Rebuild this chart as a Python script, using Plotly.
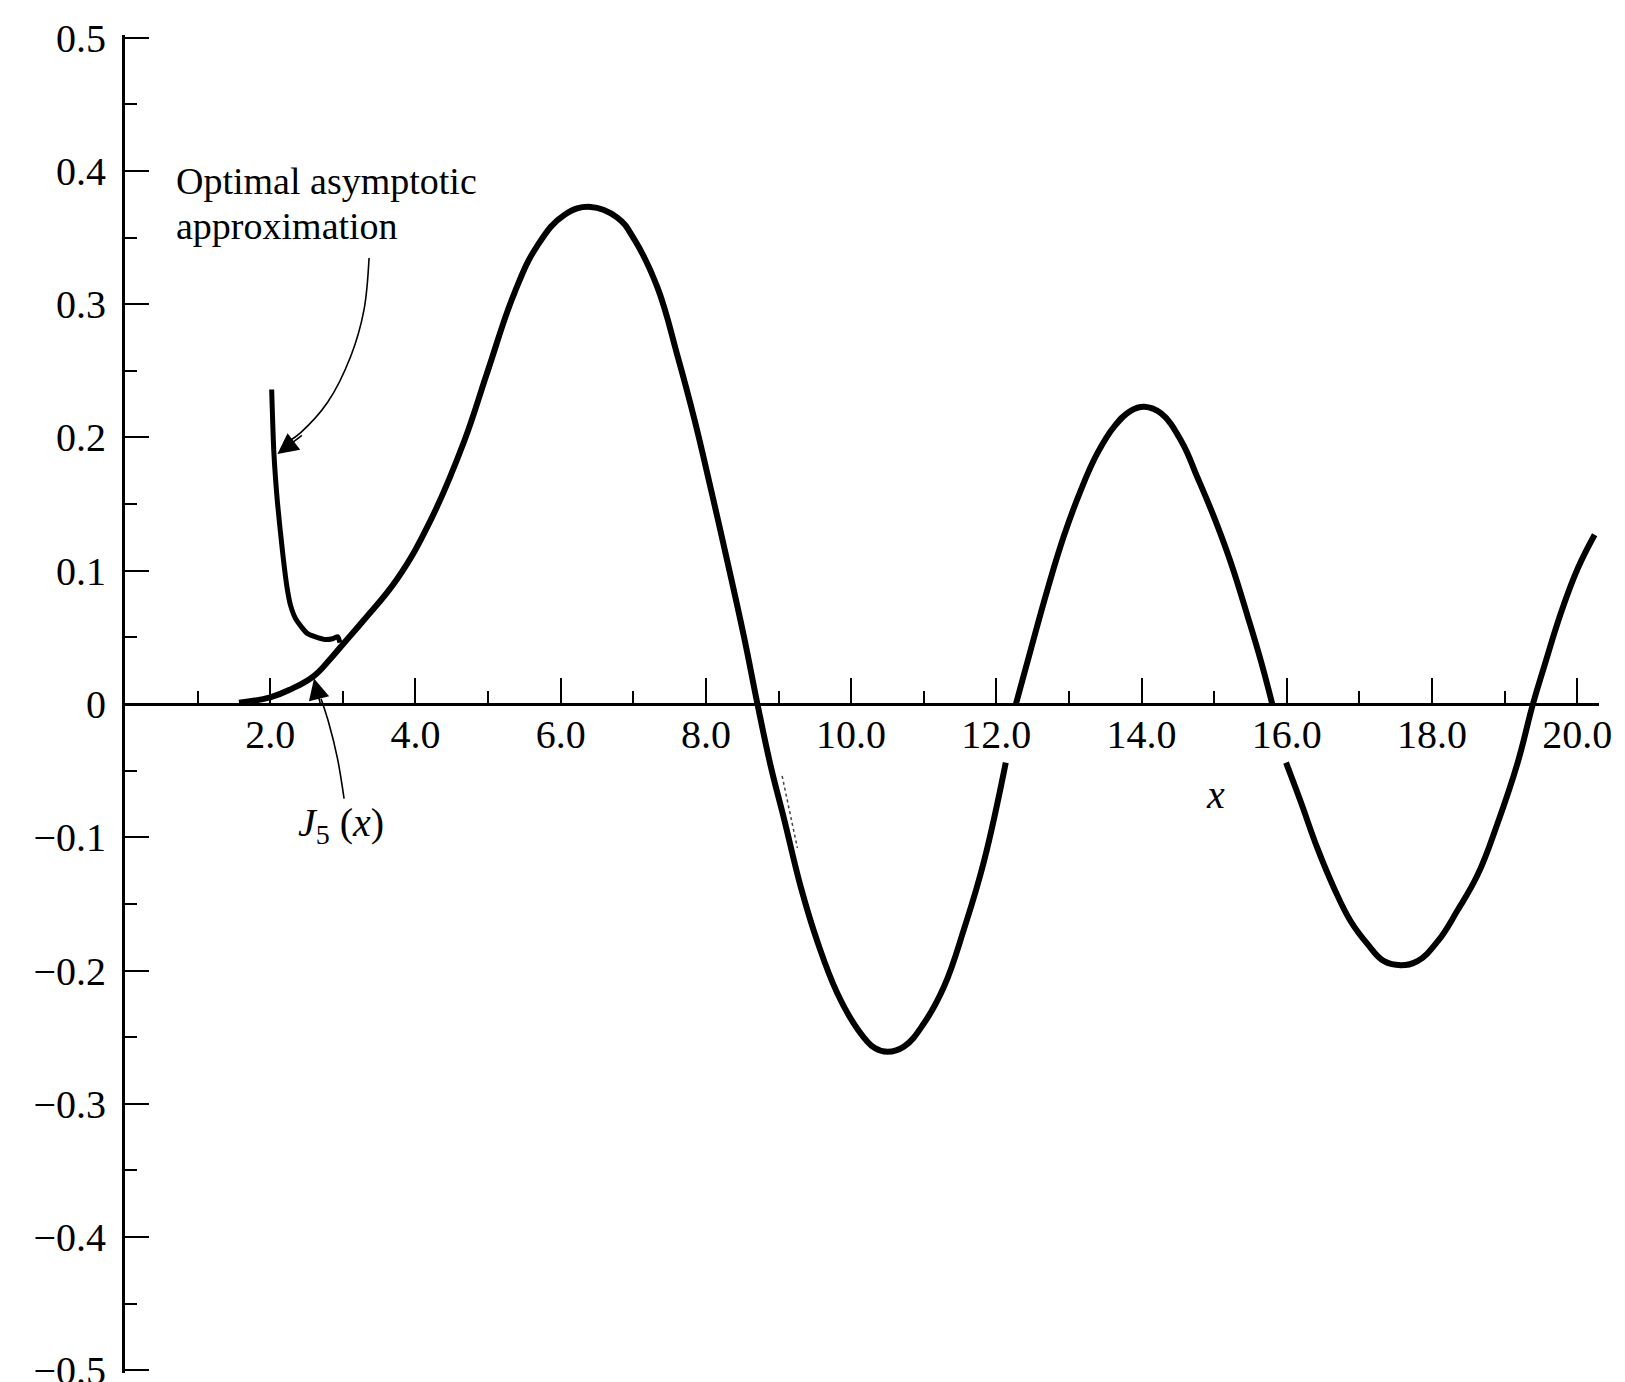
import plotly.graph_objects as go

# J5(x) as plotted; None entries break the curve where it passes behind tick labels
j5_x = [1.57, 2.00, 2.28, 2.60, 2.83, 3.02, 3.29, 3.75, 4.21, 4.67, 4.99, 5.36, 5.68,
        6.05, 6.41, 6.78, 7.01, 7.33, 7.61, 7.84, 8.07, 8.30, 8.53, 8.71, 8.89, 9.08,
        9.31, 9.54, 9.81, 10.09, 10.32, 10.50, 10.73, 11.01, 11.28, 11.56, 11.83, 12.13,
        None,
        12.27, 12.47, 12.71, 12.93, 13.16, 13.39, 13.62, 13.85, 14.04, 14.27, 14.55,
        14.77, 15.00, 15.23, 15.46, 15.64, 15.80,
        None,
        15.99, 16.19, 16.42, 16.65, 16.88, 17.11, 17.34, 17.57, 17.80, 18.08, 18.35,
        18.63, 18.90, 19.18, 19.39, 19.55, 19.78, 20.01, 20.24]
j5_y = [0.001, 0.005, 0.011, 0.021, 0.034, 0.046, 0.063, 0.094, 0.138, 0.197, 0.249,
        0.308, 0.344, 0.367, 0.373, 0.365, 0.349, 0.313, 0.261, 0.214, 0.161, 0.106,
        0.049, 0.0, -0.046, -0.087, -0.138, -0.179, -0.217, -0.244, -0.258, -0.261,
        -0.257, -0.239, -0.212, -0.168, -0.118, -0.044,
        None,
        0.0, 0.040, 0.087, 0.126, 0.160, 0.188, 0.208, 0.220, 0.223, 0.218, 0.197,
        0.170, 0.140, 0.106, 0.066, 0.033, 0.0,
        None,
        -0.044, -0.073, -0.108, -0.138, -0.163, -0.180, -0.193, -0.196, -0.193, -0.178,
        -0.155, -0.128, -0.090, -0.044, 0.0, 0.029, 0.069, 0.102, 0.127]

# Optimal asymptotic approximation
asym_x = [2.02, 2.05, 2.10, 2.17, 2.23, 2.28, 2.35, 2.51, 2.74, 2.86, 2.93, 2.96]
asym_y = [0.236, 0.189, 0.151, 0.114, 0.088, 0.074, 0.064, 0.053, 0.0485, 0.049, 0.0505, 0.046]

# faint dotted trace beside the first descending zero crossing
faint_x = [9.05, 9.26]
faint_y = [-0.054, -0.108]

x_major = [2, 4, 6, 8, 10, 12, 14, 16, 18, 20]
x_major_text = ["2.0", "4.0", "6.0", "8.0", "10.0", "12.0", "14.0", "16.0", "18.0", "20.0"]
x_minor = [1, 3, 5, 7, 9, 11, 13, 15, 17, 19]
y_major = [-0.5, -0.4, -0.3, -0.2, -0.1, 0, 0.1, 0.2, 0.3, 0.4, 0.5]
y_major_text = ["\u22120.5", "\u22120.4", "\u22120.3", "\u22120.2", "\u22120.1", "0",
                "0.1", "0.2", "0.3", "0.4", "0.5"]
y_minor = [-0.45, -0.35, -0.25, -0.15, -0.05, 0.05, 0.15, 0.25, 0.35, 0.45]

# leader lines for the two labels
lead_asym_x = [3.361, 3.292, 3.109, 2.788, 2.420, 2.25]
lead_asym_y = [0.3347, 0.296, 0.261, 0.2262, 0.2037, 0.197]
lead_j5_x = [3.017, 2.926, 2.80, 2.70]
lead_j5_y = [-0.071, -0.0408, -0.013, 0.004]

FONT = "Liberation Serif"
W, H = 1625, 1382
XR = [0, 20.3]
YR = [-0.502, 0.502]
PX_PER_X = 72.6
PX_PER_Y = 1332
L = 125
PW = PX_PER_X * (XR[1] - XR[0])
PH = PX_PER_Y * (YR[1] - YR[0])
T = 38 - PX_PER_Y * (YR[1] - 0.5)

fig = go.Figure()

fig.add_trace(go.Scatter(x=j5_x, y=j5_y, mode="lines", connectgaps=False,
                         line=dict(color="black", width=6, shape="spline", smoothing=1.2),
                         hoverinfo="skip"))
fig.add_trace(go.Scatter(x=asym_x, y=asym_y, mode="lines",
                         line=dict(color="black", width=5, shape="spline", smoothing=0.6),
                         hoverinfo="skip"))
fig.add_trace(go.Scatter(x=faint_x, y=faint_y, mode="lines",
                         line=dict(color="#444", width=1.5, dash="dot"),
                         hoverinfo="skip"))
fig.add_trace(go.Scatter(x=lead_asym_x, y=lead_asym_y, mode="lines",
                         line=dict(color="black", width=1.6, shape="spline"),
                         hoverinfo="skip"))
fig.add_trace(go.Scatter(x=lead_j5_x, y=lead_j5_y, mode="lines",
                         line=dict(color="black", width=1.6, shape="spline"),
                         hoverinfo="skip"))

annotations = [
    dict(x=0.68, y=0.3925, text="Optimal asymptotic", xanchor="left", yanchor="middle",
         showarrow=False, font=dict(family=FONT, size=38, color="black")),
    dict(x=0.68, y=0.359, text="approximation", xanchor="left", yanchor="middle",
         showarrow=False, font=dict(family=FONT, size=38, color="black")),
    dict(x=2.98, y=-0.091, text="<i>J</i><sub>5</sub> (<i>x</i>)", xanchor="center",
         yanchor="middle", showarrow=False, font=dict(family=FONT, size=40, color="black")),
    dict(x=15.02, y=-0.068, text="<i>x</i>", xanchor="center", yanchor="middle",
         showarrow=False, font=dict(family=FONT, size=40, color="black")),
    # arrowheads at the ends of the leader lines
    dict(x=2.099, y=0.1875, ax=26, ay=-20, text="", showarrow=True, arrowhead=2,
         arrowsize=2.6, arrowwidth=1.6, arrowcolor="black", standoff=0),
    dict(x=2.603, y=0.0191, ax=7, ay=28, text="", showarrow=True, arrowhead=2,
         arrowsize=2.6, arrowwidth=1.6, arrowcolor="black", standoff=0),
]

fig.update_layout(
    width=W, height=H,
    margin=dict(l=L, t=T, r=W - L - PW, b=H - T - PH, pad=0, autoexpand=False),
    paper_bgcolor="white", plot_bgcolor="white",
    showlegend=False,
    annotations=annotations,
    xaxis=dict(range=XR, anchor="free", position=(0 - YR[0]) / (YR[1] - YR[0]),
               showline=True, linecolor="black", linewidth=2.5, showgrid=False,
               zeroline=False,
               tickmode="array", tickvals=x_major, ticktext=x_major_text,
               ticks="inside", ticklen=25, tickwidth=2, tickcolor="black",
               ticklabelstandoff=-6, ticklabeloverflow="allow",
               minor=dict(ticks="inside", ticklen=12, tickwidth=2, tickcolor="black",
                          tickmode="array", tickvals=x_minor, showgrid=False),
               tickfont=dict(family=FONT, size=40, color="black"), automargin=False),
    yaxis=dict(range=YR, showline=True, linecolor="black", linewidth=3,
               showgrid=False, zeroline=False,
               tickmode="array", tickvals=y_major, ticktext=y_major_text,
               ticks="inside", ticklen=24, tickwidth=2, tickcolor="black",
               ticklabelstandoff=8, ticklabeloverflow="allow",
               minor=dict(ticks="inside", ticklen=12, tickwidth=2, tickcolor="black",
                          tickmode="array", tickvals=y_minor, showgrid=False),
               tickfont=dict(family=FONT, size=40, color="black"), automargin=False),
)

fig.write_html("out.html")
